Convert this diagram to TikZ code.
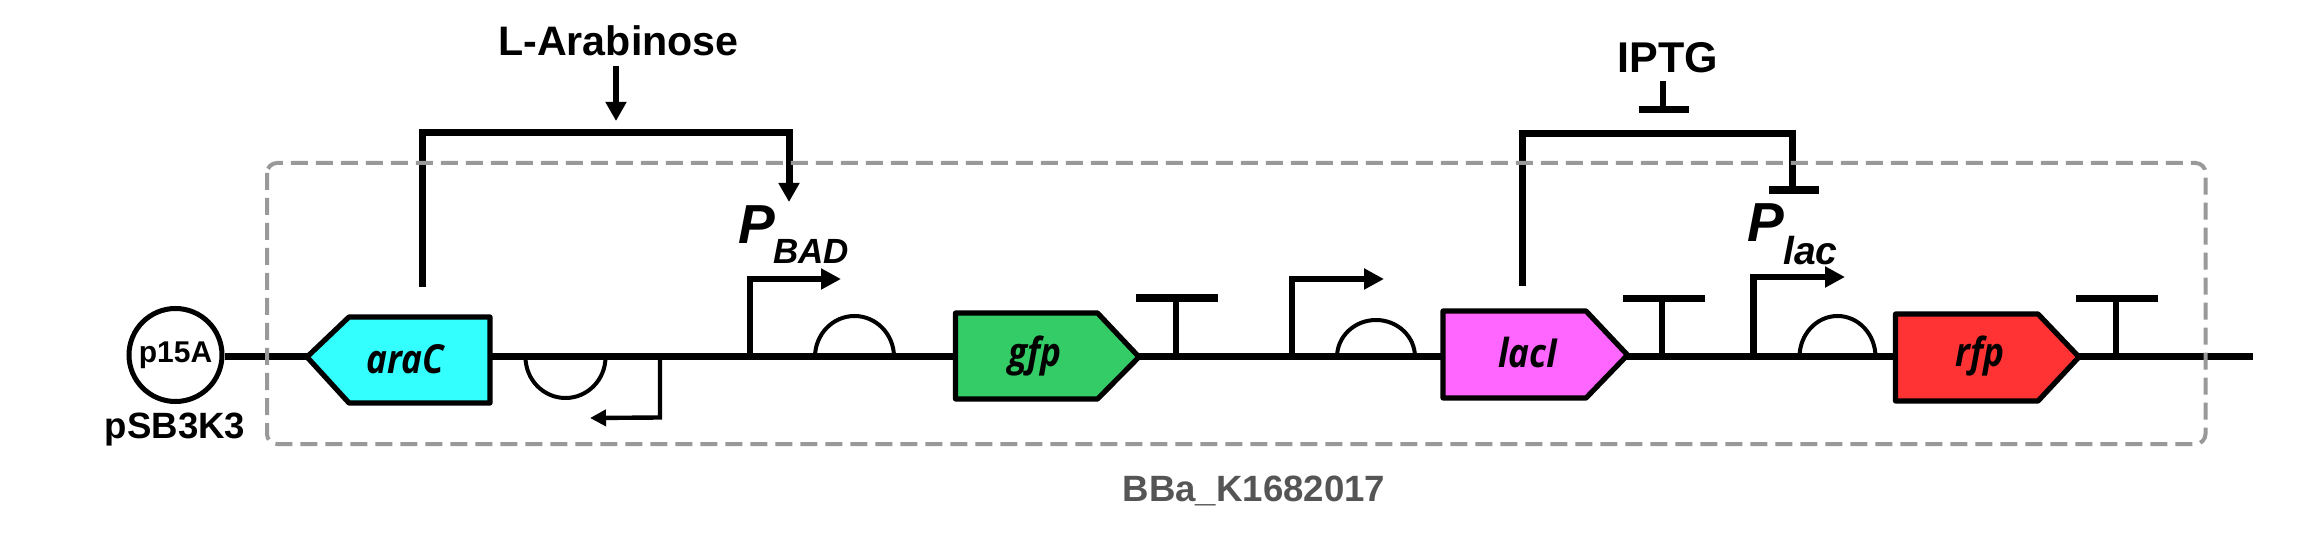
\documentclass[tikz,border=0pt]{standalone}
\usepackage{fontspec}
\setmainfont{Liberation Sans}
\newfontfamily\genefont[FakeStretch=0.88]{Open Sans}
\usetikzlibrary{arrows.meta}
\definecolor{boxgray}{HTML}{999999}
\definecolor{labelgray}{HTML}{555555}
\definecolor{aracfill}{HTML}{33FFFF}
\definecolor{gfpfill}{HTML}{33CC66}
\definecolor{laclfill}{HTML}{FF66FF}
\definecolor{rfpfill}{HTML}{FF3333}
\tikzset{
  backbone/.style={line width=3.5pt},
  gene/.style={line width=2.6pt,line join=round,draw=black},
  genelabel/.style={inner sep=0pt,font=\genefont\bfseries\itshape\fontsize{20}{22}\selectfont},
  bigtext/.style={inner sep=0pt,anchor=base,font=\bfseries\fontsize{20.6}{24}\selectfont},
  iptgtext/.style={inner sep=0pt,anchor=base,font=\bfseries\fontsize{21.5}{24}\selectfont},
  midtext/.style={inner sep=0pt,anchor=base,font=\bfseries\fontsize{18.3}{22}\selectfont},
  promP/.style={inner sep=0pt,anchor=base west,font=\bfseries\itshape\fontsize{27.5}{30}\selectfont},
  promsub/.style={inner sep=0pt,anchor=base west,font=\bfseries\itshape\fontsize{17.5}{20}\selectfont},
  promsubb/.style={inner sep=0pt,anchor=base west,font=\bfseries\itshape\fontsize{19.5}{22}\selectfont},
  rbs/.style={line width=2pt},
  feedback/.style={line width=3.5pt,line join=miter},
  promoter/.style={line width=3.2pt,line join=miter,-{Triangle[length=10pt,width=10pt]}},
  revpromoter/.style={line width=2.2pt,line join=miter,-{Triangle[length=8pt,width=8pt]}},
  termstem/.style={line width=3pt},
  termbar/.style={line width=3.6pt},
  activ/.style={line width=3.2pt,-{Triangle[length=9.5pt,width=10pt]}},
  ori/.style={circle,draw,line width=2.5pt,minimum size=46.5pt,inner sep=0pt,font=\bfseries\fontsize{15}{18}\selectfont},
  region/.style={draw=boxgray,line width=2pt,dash pattern=on 8.5pt off 4pt,rounded corners=5pt}
}
\begin{document}
\begin{tikzpicture}[x=0.5pt,y=-0.5pt]
\useasboundingbox (0,0) rectangle (2300,550);
\fill[white] (0,0) rectangle (2300,550);

% plasmid origin and backbone
\node[ori] (ori) at (175.5,355) {p15A};
\coordinate (bbend) at (2253,357);
\draw[backbone] (ori.east |- bbend) -- (bbend);
\node[midtext] (vec) at (175,438) {pSB3K3};

% genes
\draw[gene,fill=aracfill] (490,317) -- (349,317) -- (307,357) -- (349,403) -- (490,403) -- cycle;
\node[genelabel] (arac) at (405,359) {araC};
\draw[gene,fill=gfpfill] (955.5,313) -- (1097.5,313) -- (1139,357) -- (1097.5,399) -- (955.5,399) -- cycle;
\node[genelabel] (gfp) at (1035,356) {gfp};
\draw[gene,fill=laclfill] (1443,311) -- (1586,311) -- (1627.5,355) -- (1586,398) -- (1443,398) -- cycle;
\node[genelabel] (lacl) at (1528,353) {lacI};
\draw[gene,fill=rfpfill] (1895.5,314) -- (2038,314) -- (2079,357) -- (2038,401) -- (1895.5,401) -- cycle;
\node[genelabel] (rfp) at (1980,356) {rfp};

% RBS
\draw[rbs] (525.5,357) arc[start angle=180,end angle=360,x radius=20pt,y radius=20.5pt];
\draw[rbs] (815,357) arc[start angle=180,end angle=0,x radius=19.75pt,y radius=20.5pt];
\draw[rbs] (1337,357) arc[start angle=180,end angle=0,x radius=19.5pt,y radius=18.5pt];
\draw[rbs] (1799.5,357) arc[start angle=180,end angle=0,x radius=19pt,y radius=20.5pt];

% promoters
\coordinate (pr0a) at (660,357); \coordinate (pr0b) at (660,417.5); \coordinate (pr0c) at (590,418);
\draw[revpromoter] (pr0a) -- (pr0b) -- (pr0c);
\coordinate (pr1a) at (750,357); \coordinate (pr1b) at (750,279); \coordinate (pr1c) at (841,279);
\draw[promoter] (pr1a) -- (pr1b) -- (pr1c);
\coordinate (pr2a) at (1292,357); \coordinate (pr2b) at (1292,279); \coordinate (pr2c) at (1384,279);
\draw[promoter] (pr2a) -- (pr2b) -- (pr2c);
\coordinate (pr3a) at (1753.5,357); \coordinate (pr3b) at (1753.5,277); \coordinate (pr3c) at (1845,277);
\draw[promoter] (pr3a) -- (pr3b) -- (pr3c);

% terminators
\coordinate (t1a) at (1175.5,357); \coordinate (t1b) at (1175.5,298);
\draw[termstem] (t1a) -- (t1b);
\draw[termbar] (1136,298) -- (1218,298);
\coordinate (t2a) at (1662,357); \coordinate (t2b) at (1662,298.5);
\draw[termstem] (t2a) -- (t2b);
\draw[termbar] (1623,298.5) -- (1705,298.5);
\coordinate (t3a) at (2116,357); \coordinate (t3b) at (2116,298.5);
\draw[termstem] (t3a) -- (t3b);
\draw[termbar] (2076,298.5) -- (2158,298.5);

% araC feedback
\coordinate (fa1) at (422.5,287); \coordinate (fa2) at (422.5,132.5);
\coordinate (fa3) at (789,132.5); \coordinate (fa4) at (789,202);
\draw[feedback,-{Triangle[length=9.5pt,width=10pt]}] (fa1) -- (fa2) -- (fa3) -- (fa4);
\node[bigtext] (arab) at (618.5,55.5) {L-Arabinose};
\coordinate (ar1) at (616,66); \coordinate (ar2) at (616,121);
\draw[activ] (ar1) -- (ar2);
\node[promP] (pbad) at (738,244) {P};
\node[promsub] (pbadsub) at (773,264) {BAD};

% lacI feedback
\coordinate (fb1) at (1522.5,286); \coordinate (fb2) at (1522.5,134);
\coordinate (fb3) at (1792,134); \coordinate (fb4) at (1792,190);
\draw[feedback] (fb1) -- (fb2) -- (fb3) -- (fb4);
\draw[termbar] (1769,190) -- (1819,190);
\node[iptgtext] (iptg) at (1668,73) {IPTG};
\coordinate (ip1) at (1663,81); \coordinate (ip2) at (1663,109.5);
\draw[termstem] (ip1) -- (ip2);
\draw[termbar] (1639,109.5) -- (1689,109.5);
\node[promP] (plac) at (1747,242) {P};
\node[promsubb] (placsub) at (1783,265) {lac};

% region
\draw[region] (267,163) rectangle (2205.5,444);
\node[midtext,text=labelgray] (name) at (1254,501) {BBa\_K1682017};
\end{tikzpicture}
\end{document}
